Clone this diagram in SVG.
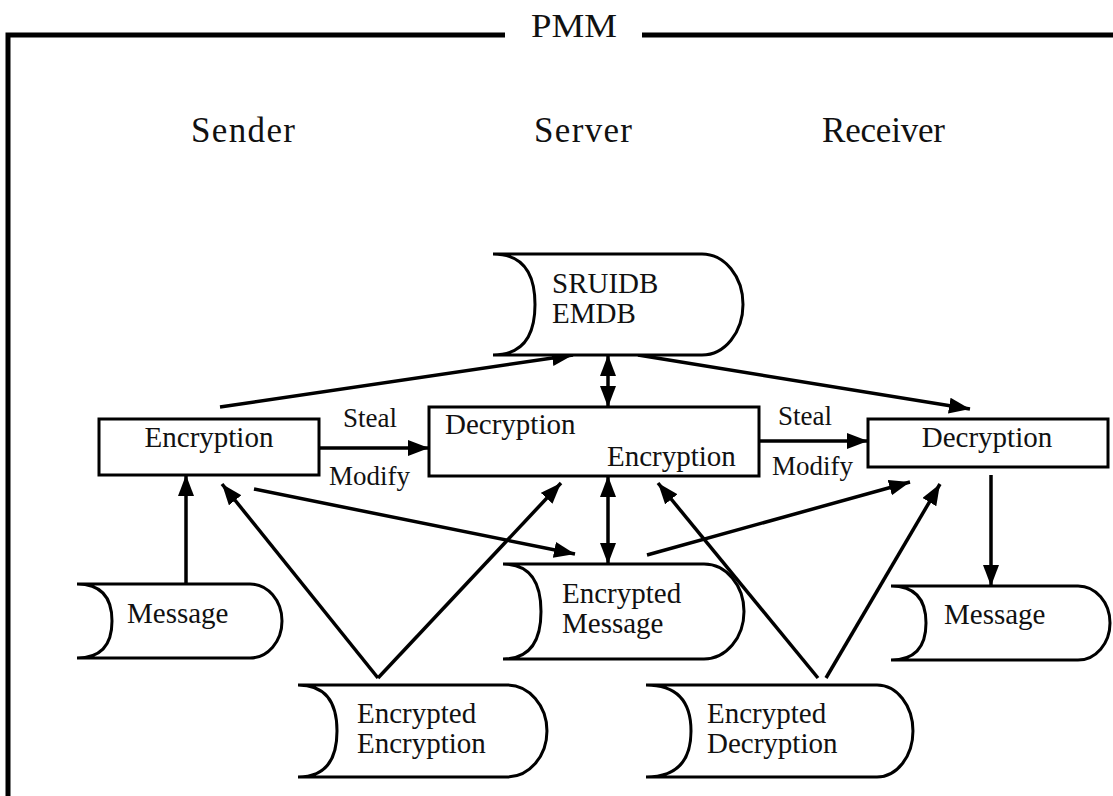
<svg xmlns="http://www.w3.org/2000/svg" width="1113" height="796" viewBox="0 0 1113 796" font-family="'Liberation Serif', 'DejaVu Serif', 'Times New Roman', serif">
<style>
  text { font-family: 'Liberation Serif', 'DejaVu Serif', 'Times New Roman', serif; fill: #111; }
  .hdr { font-size: 35px; }
  .lbl { font-size: 29px; }
  .sm { font-size: 27px; }
  .shape { fill: #fff; stroke: #000; stroke-width: 3; }
  .frame { fill: none; stroke: #000; stroke-width: 5; }
  .conn line { stroke: #000; stroke-width: 3.5; fill: none; }
  .a { marker-end: url(#ah); }
  .d { marker-end: url(#ah); marker-start: url(#ahs); }
</style>
<defs>
  <marker id="ah" markerUnits="userSpaceOnUse" markerWidth="24" markerHeight="18" refX="21" refY="8" orient="auto">
    <path d="M0,0 L21,8 L0,16 z" fill="#000"/>
  </marker>
  <marker id="ahs" markerUnits="userSpaceOnUse" markerWidth="24" markerHeight="18" refX="21" refY="8" orient="auto-start-reverse">
    <path d="M0,0 L21,8 L0,16 z" fill="#000"/>
  </marker>
</defs>
<rect width="1113" height="796" fill="#fff"/>

<g id="frame">
  <path class="frame" d="M8,796 V35 H505"/>
  <path class="frame" d="M642,35 H1113"/>
  <text x="531" y="37" style="font-size:34px" textLength="86" lengthAdjust="spacingAndGlyphs">PMM</text>
</g>

<g id="headers">
  <text class="hdr" x="191" y="142" textLength="104">Sender</text>
  <text class="hdr" x="534" y="142" textLength="98">Server</text>
  <text class="hdr" x="822" y="142" textLength="123">Receiver</text>
</g>

<g id="connectors" class="conn">
  <line class="a" x1="186" y1="584" x2="186" y2="475"/>
  <line class="a" x1="378" y1="678" x2="222" y2="484"/>
  <line class="a" x1="378" y1="678" x2="561" y2="483"/>
  <line class="a" x1="220" y1="407" x2="573" y2="355"/>
  <line class="a" x1="319" y1="448" x2="429" y2="448"/>
  <line class="a" x1="254" y1="489" x2="575" y2="554"/>
  <line class="d" x1="608" y1="355" x2="608" y2="407"/>
  <line class="d" x1="608" y1="476" x2="608" y2="564"/>
  <line class="a" x1="638" y1="355" x2="970" y2="409"/>
  <line class="a" x1="759" y1="441" x2="868" y2="441"/>
  <line class="a" x1="647" y1="555" x2="910" y2="482"/>
  <line class="a" x1="818" y1="678" x2="658" y2="483"/>
  <line class="a" x1="826" y1="678" x2="940" y2="484"/>
  <line class="a" x1="991" y1="475" x2="991" y2="586"/>
</g>

<g id="labels">
  <text class="sm" x="343" y="427">Steal</text>
  <text class="sm" x="329" y="485">Modify</text>
  <text class="sm" x="778" y="425">Steal</text>
  <text class="sm" x="772" y="475">Modify</text>
</g>

<g id="sender-encryption">
  <rect class="shape" x="99" y="419" width="220" height="56"/>
  <text class="lbl" x="209" y="447" text-anchor="middle">Encryption</text>
</g>

<g id="server-box">
  <rect class="shape" x="429" y="407" width="330" height="69"/>
  <text class="lbl" x="445" y="434">Decryption</text>
  <text class="lbl" x="607" y="466">Encryption</text>
</g>

<g id="receiver-decryption">
  <rect class="shape" x="868" y="419" width="240" height="48"/>
  <text class="lbl" x="987" y="447" text-anchor="middle">Decryption</text>
</g>

<g id="db">
  <path class="shape" d="M493,254 H702 A41,50.5 0 0 1 702,355 H493 Q535,355 535,304.5 Q535,254 493,254 Z"/>
  <text class="lbl" x="552" y="293">SRUIDB</text>
  <text class="lbl" x="552" y="323">EMDB</text>
</g>

<g id="sender-message">
  <path class="shape" d="M77,584 H250 A32,37 0 0 1 250,658 H77 Q112,658 112,621 Q112,584 77,584 Z"/>
  <text class="lbl" x="127" y="623">Message</text>
</g>

<g id="encrypted-message">
  <path class="shape" d="M503,564 H704 A40,47.5 0 0 1 704,659 H503 Q541,659 541,611.5 Q541,564 503,564 Z"/>
  <text class="lbl" x="562" y="603">Encrypted</text>
  <text class="lbl" x="562" y="633">Message</text>
</g>

<g id="receiver-message">
  <path class="shape" d="M891,586 H1078 A32,37 0 0 1 1078,660 H891 Q926,660 926,623 Q926,586 891,586 Z"/>
  <text class="lbl" x="944" y="624">Message</text>
</g>

<g id="encrypted-encryption">
  <path class="shape" d="M298,685 H507 A40,46 0 0 1 507,777 H298 Q337,777 337,731 Q337,685 298,685 Z"/>
  <text class="lbl" x="357" y="723">Encrypted</text>
  <text class="lbl" x="357" y="753">Encryption</text>
</g>

<g id="encrypted-decryption">
  <path class="shape" d="M646,685 H877 A36,46 0 0 1 877,777 H646 Q691,777 691,731 Q691,685 646,685 Z"/>
  <text class="lbl" x="707" y="723">Encrypted</text>
  <text class="lbl" x="707" y="753">Decryption</text>
</g>
</svg>
